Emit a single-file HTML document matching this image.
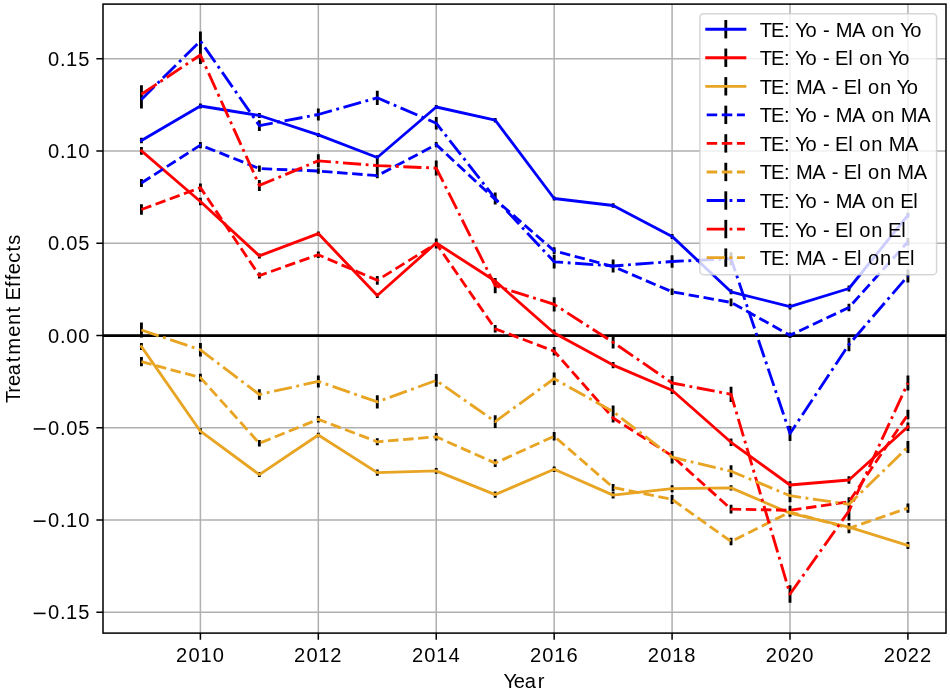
<!DOCTYPE html><html><head><meta charset="utf-8"><style>html,body{margin:0;padding:0;background:#fff;}svg{display:block;}text{font-family:"Liberation Sans",sans-serif;font-size:20.10px;fill:#000;}svg{will-change:transform;}</style></head><body>
<svg width="950" height="694" viewBox="0 0 950 694">
<rect width="950" height="694" fill="#fff"/>
<defs><clipPath id="ax"><rect x="103.0" y="4.1" width="843.0" height="629.0"/></clipPath></defs>
<path d="M200.40 4.1V633.1M318.32 4.1V633.1M436.24 4.1V633.1M554.16 4.1V633.1M672.08 4.1V633.1M790.00 4.1V633.1M907.92 4.1V633.1M103.0 612.26H946.0M103.0 520.02H946.0M103.0 427.79H946.0M103.0 335.55H946.0M103.0 243.31H946.0M103.0 151.08H946.0M103.0 58.84H946.0" stroke="#b0b0b0" stroke-width="1.52" fill="none"/>
<g clip-path="url(#ax)" fill="none">
<path d="M141.44 137.70V143.30M200.40 103.50V108.50M259.36 113.00V118.00M318.32 132.90V136.90M377.28 155.30V159.70M436.24 105.00V109.00M495.20 118.00V122.40M554.16 196.40V200.60M613.12 203.30V207.70M672.08 233.90V238.90M731.04 289.30V294.30M790.00 303.80V309.60M848.96 285.50V291.50M907.92 212.80V217.80M141.44 147.10V154.70M200.40 197.80V205.20M259.36 253.40V258.40M318.32 231.40V235.80M377.28 293.00V298.00M436.24 241.00V245.00M495.20 278.50V283.50M554.16 329.50V336.50M613.12 361.90V368.30M672.08 386.50V394.10M731.04 438.50V446.10M790.00 481.20V488.80M848.96 476.20V483.80M907.92 422.50V430.90M141.44 342.90V350.10M200.40 428.20V434.20M259.36 472.10V477.10M318.32 432.80V437.20M377.28 469.50V475.70M436.24 468.10V473.70M495.20 491.50V497.70M554.16 466.50V472.10M613.12 491.60V498.60M672.08 485.20V492.20M731.04 485.20V490.60M790.00 509.70V516.70M848.96 523.10V531.10M907.92 542.10V548.90M141.44 179.00V187.00M200.40 141.90V148.30M259.36 165.40V171.80M318.32 168.20V173.80M377.28 173.20V178.20M436.24 142.00V147.20M495.20 197.00V202.00M554.16 247.30V254.30M613.12 263.00V270.00M672.08 288.60V295.00M731.04 298.60V306.20M790.00 332.50V338.10M848.96 303.70V311.30M907.92 238.00V245.60M141.44 204.30V214.70M200.40 183.40V191.80M259.36 272.60V278.60M318.32 251.50V258.10M377.28 275.90V284.70M436.24 238.50V248.50M495.20 325.00V332.60M554.16 347.00V355.40M613.12 413.50V422.50M672.08 451.40V460.40M731.04 504.70V513.50M790.00 505.80V514.80M848.96 497.30V506.30M907.92 409.70V419.30M141.44 357.10V366.30M200.40 373.80V381.40M259.36 440.10V446.50M318.32 416.00V422.60M377.28 438.30V445.30M436.24 433.00V440.60M495.20 459.30V466.90M554.16 432.00V440.40M613.12 484.00V491.00M672.08 494.90V503.90M731.04 537.70V545.30M790.00 508.00V516.00M848.96 523.30V533.30M907.92 503.50V512.70M141.44 90.40V108.40M200.40 31.60V50.40M259.36 120.30V130.90M318.32 108.50V120.50M377.28 90.70V104.90M436.24 116.90V129.50M495.20 192.50V204.50M554.16 255.10V268.50M613.12 259.60V272.40M672.08 255.30V267.70M731.04 252.20V265.20M790.00 425.90V441.10M848.96 337.80V351.20M907.92 269.40V282.40M141.44 85.20V103.20M200.40 46.00V64.00M259.36 179.90V190.90M318.32 154.20V167.40M377.28 158.00V173.20M436.24 160.60V175.60M495.20 278.10V293.30M554.16 297.20V311.60M613.12 336.00V348.60M672.08 376.00V390.00M731.04 386.70V401.90M790.00 585.20V602.80M848.96 501.50V520.50M907.92 375.40V390.60M141.44 322.40V337.60M200.40 343.10V356.50M259.36 389.20V399.80M318.32 375.40V387.40M377.28 395.20V408.60M436.24 374.10V386.70M495.20 415.30V427.90M554.16 372.50V384.90M613.12 405.40V418.00M672.08 450.90V463.50M731.04 465.20V477.20M790.00 489.20V502.20M848.96 498.30V510.30M907.92 441.00V453.00" stroke="#000" stroke-width="2.85"/>
<path d="M103.0 335.55H946.0" stroke="#000" stroke-width="2.85"/>
<polyline points="141.44,140.50 200.40,106.00 259.36,115.50 318.32,134.90 377.28,157.50 436.24,107.00 495.20,120.20 554.16,198.50 613.12,205.50 672.08,236.40 731.04,291.80 790.00,306.70 848.96,288.50 907.92,215.30" stroke="#0000ff" stroke-width="2.85" stroke-linecap="square" stroke-linejoin="round"/>
<polyline points="141.44,150.90 200.40,201.50 259.36,255.90 318.32,233.60 377.28,295.50 436.24,243.00 495.20,281.00 554.16,333.00 613.12,365.10 672.08,390.30 731.04,442.30 790.00,485.00 848.96,480.00 907.92,426.70" stroke="#ff0000" stroke-width="2.85" stroke-linecap="square" stroke-linejoin="round"/>
<polyline points="141.44,346.50 200.40,431.20 259.36,474.60 318.32,435.00 377.28,472.60 436.24,470.90 495.20,494.60 554.16,469.30 613.12,495.10 672.08,488.70 731.04,487.90 790.00,513.20 848.96,527.10 907.92,545.50" stroke="#e8a423" stroke-width="2.85" stroke-linecap="square" stroke-linejoin="round"/>
<polyline points="141.44,183.00 200.40,145.10 259.36,168.60 318.32,171.00 377.28,175.70 436.24,144.60 495.20,199.50 554.16,250.80 613.12,266.50 672.08,291.80 731.04,302.40 790.00,335.30 848.96,307.50 907.92,241.80" stroke="#0000ff" stroke-width="2.85" stroke-linecap="butt" stroke-linejoin="round" stroke-dasharray="10.5 4.6"/>
<polyline points="141.44,209.50 200.40,187.60 259.36,275.60 318.32,254.80 377.28,280.30 436.24,243.50 495.20,328.80 554.16,351.20 613.12,418.00 672.08,455.90 731.04,509.10 790.00,510.30 848.96,501.80 907.92,414.50" stroke="#ff0000" stroke-width="2.85" stroke-linecap="butt" stroke-linejoin="round" stroke-dasharray="10.5 4.6"/>
<polyline points="141.44,361.70 200.40,377.60 259.36,443.30 318.32,419.30 377.28,441.80 436.24,436.80 495.20,463.10 554.16,436.20 613.12,487.50 672.08,499.40 731.04,541.50 790.00,512.00 848.96,528.30 907.92,508.10" stroke="#e8a423" stroke-width="2.85" stroke-linecap="butt" stroke-linejoin="round" stroke-dasharray="10.5 4.6"/>
<polyline points="141.44,99.40 200.40,41.00 259.36,125.60 318.32,114.50 377.28,97.80 436.24,123.20 495.20,198.50 554.16,261.80 613.12,266.00 672.08,261.50 731.04,258.70 790.00,433.50 848.96,344.50 907.92,275.90" stroke="#0000ff" stroke-width="2.85" stroke-linecap="butt" stroke-linejoin="round" stroke-dasharray="18.2 4.6 2.85 4.6"/>
<polyline points="141.44,94.20 200.40,55.00 259.36,185.40 318.32,160.80 377.28,165.60 436.24,168.10 495.20,285.70 554.16,304.40 613.12,342.30 672.08,383.00 731.04,394.30 790.00,594.00 848.96,511.00 907.92,383.00" stroke="#ff0000" stroke-width="2.85" stroke-linecap="butt" stroke-linejoin="round" stroke-dasharray="18.2 4.6 2.85 4.6"/>
<polyline points="141.44,330.00 200.40,349.80 259.36,394.50 318.32,381.40 377.28,401.90 436.24,380.40 495.20,421.60 554.16,378.70 613.12,411.70 672.08,457.20 731.04,471.20 790.00,495.70 848.96,504.30 907.92,447.00" stroke="#e8a423" stroke-width="2.85" stroke-linecap="butt" stroke-linejoin="round" stroke-dasharray="18.2 4.6 2.85 4.6"/>
</g>
<rect x="103.0" y="4.1" width="843.0" height="629.0" fill="none" stroke="#000" stroke-width="1.52"/>
<path d="M200.40 633.1v6.65M318.32 633.1v6.65M436.24 633.1v6.65M554.16 633.1v6.65M672.08 633.1v6.65M790.00 633.1v6.65M907.92 633.1v6.65M103.0 612.26h-6.65M103.0 520.02h-6.65M103.0 427.79h-6.65M103.0 335.55h-6.65M103.0 243.31h-6.65M103.0 151.08h-6.65M103.0 58.84h-6.65" stroke="#000" stroke-width="1.52"/>
<text x="176.12 188.46 200.45 212.64" y="661.60">2010</text>
<text x="294.04 306.38 318.37 330.31" y="661.60">2012</text>
<text x="411.96 424.30 436.29 448.48" y="661.60">2014</text>
<text x="529.88 542.22 554.21 566.40" y="661.60">2016</text>
<text x="647.80 660.14 672.13 684.32" y="661.60">2018</text>
<text x="765.72 778.06 789.90 802.24" y="661.60">2020</text>
<text x="883.64 895.98 907.82 919.91" y="661.60">2022</text>
<text x="48.05 59.90 66.07 78.19" y="619.36">0.15</text>
<rect x="33.69" y="612.61" width="11.89" height="1.58" fill="#000"/>
<text x="48.05 59.90 66.07 78.26" y="527.12">0.10</text>
<rect x="33.69" y="520.38" width="11.89" height="1.58" fill="#000"/>
<text x="48.05 59.90 66.17 78.19" y="434.89">0.05</text>
<rect x="33.69" y="428.14" width="11.89" height="1.58" fill="#000"/>
<text x="48.05 59.90 66.17 78.26" y="342.65">0.00</text>
<text x="48.05 59.90 66.17 78.19" y="250.41">0.05</text>
<text x="48.05 59.90 66.07 78.26" y="158.18">0.10</text>
<text x="48.05 59.90 66.07 78.19" y="65.94">0.15</text>
<text x="503.47 513.77 524.68 537.73" y="687.60">Year</text>
<text x="-84.17 -74.06 -67.25 -56.34 -43.33 -35.83 -17.96 -6.09 6.36 12.93 18.20 31.77 38.46 44.64 56.01 67.37 74.00" y="0.00" transform="translate(20.2 318.8) rotate(-90)">Treatment Effects</text>
<rect x="699.9" y="13.7" width="236.7" height="261.0" rx="3.8" ry="3.8" fill="#fff" fill-opacity="0.8" stroke="#cccccc" stroke-opacity="0.8" stroke-width="1.52"/>
<path d="M725.8 20.00V38.40" stroke="#000" stroke-width="2.85"/>
<path d="M706.7 29.20H744.9" stroke="#0000ff" stroke-width="2.85" stroke-linecap="square" fill="none"/>
<text x="759.77 770.94 784.12 790.11 795.25 805.49 816.88 823.00 829.78 835.65 852.00 865.21 871.48 883.34 894.91 900.05 910.29" y="36.70">TE: Yo - MA on Yo</text>
<path d="M725.8 48.55V66.95" stroke="#000" stroke-width="2.85"/>
<path d="M706.7 57.75H744.9" stroke="#ff0000" stroke-width="2.85" stroke-linecap="square" fill="none"/>
<text x="759.77 770.94 784.12 790.11 795.25 805.49 816.88 823.00 829.78 835.05 848.23 853.10 859.37 871.24 882.81 887.95 898.18" y="65.25">TE: Yo - El on Yo</text>
<path d="M725.8 77.10V95.50" stroke="#000" stroke-width="2.85"/>
<path d="M706.7 86.30H744.9" stroke="#e8a423" stroke-width="2.85" stroke-linecap="square" fill="none"/>
<text x="759.77 770.94 784.12 790.11 795.98 812.34 825.54 831.66 838.44 843.71 856.89 861.76 868.03 879.90 891.47 896.61 906.84" y="93.80">TE: MA - El on Yo</text>
<path d="M725.8 105.65V124.05" stroke="#000" stroke-width="2.85"/>
<path d="M706.7 114.85H744.9" stroke="#0000ff" stroke-width="2.85" stroke-linecap="butt" stroke-dasharray="10.5 4.6" fill="none"/>
<text x="759.77 770.94 784.12 790.11 795.25 805.49 816.88 823.00 829.78 835.65 852.00 865.21 871.48 883.34 894.91 900.78 917.14" y="122.35">TE: Yo - MA on MA</text>
<path d="M725.8 134.20V152.60" stroke="#000" stroke-width="2.85"/>
<path d="M706.7 143.40H744.9" stroke="#ff0000" stroke-width="2.85" stroke-linecap="butt" stroke-dasharray="10.5 4.6" fill="none"/>
<text x="759.77 770.94 784.12 790.11 795.25 805.49 816.88 823.00 829.78 835.05 848.23 853.10 859.37 871.24 882.81 888.68 905.03" y="150.90">TE: Yo - El on MA</text>
<path d="M725.8 162.75V181.15" stroke="#000" stroke-width="2.85"/>
<path d="M706.7 171.95H744.9" stroke="#e8a423" stroke-width="2.85" stroke-linecap="butt" stroke-dasharray="10.5 4.6" fill="none"/>
<text x="759.77 770.94 784.12 790.11 795.98 812.34 825.54 831.66 838.44 843.71 856.89 861.76 868.03 879.90 891.47 897.34 913.69" y="179.45">TE: MA - El on MA</text>
<path d="M725.8 191.30V209.70" stroke="#000" stroke-width="2.85"/>
<path d="M706.7 200.50H744.9" stroke="#0000ff" stroke-width="2.85" stroke-linecap="butt" stroke-dasharray="18.2 4.6 2.85 4.6" fill="none"/>
<text x="759.77 770.94 784.12 790.11 795.25 805.49 816.88 823.00 829.78 835.65 852.00 865.21 871.48 883.34 894.91 900.18 913.36" y="208.00">TE: Yo - MA on El</text>
<path d="M725.8 219.85V238.25" stroke="#000" stroke-width="2.85"/>
<path d="M706.7 229.05H744.9" stroke="#ff0000" stroke-width="2.85" stroke-linecap="butt" stroke-dasharray="18.2 4.6 2.85 4.6" fill="none"/>
<text x="759.77 770.94 784.12 790.11 795.25 805.49 816.88 823.00 829.78 835.05 848.23 853.10 859.37 871.24 882.81 888.08 901.26" y="236.55">TE: Yo - El on El</text>
<path d="M725.8 248.40V266.80" stroke="#000" stroke-width="2.85"/>
<path d="M706.7 257.60H744.9" stroke="#e8a423" stroke-width="2.85" stroke-linecap="butt" stroke-dasharray="18.2 4.6 2.85 4.6" fill="none"/>
<text x="759.77 770.94 784.12 790.11 795.98 812.34 825.54 831.66 838.44 843.71 856.89 861.76 868.03 879.90 891.47 896.74 909.92" y="265.10">TE: MA - El on El</text>
</svg></body></html>
